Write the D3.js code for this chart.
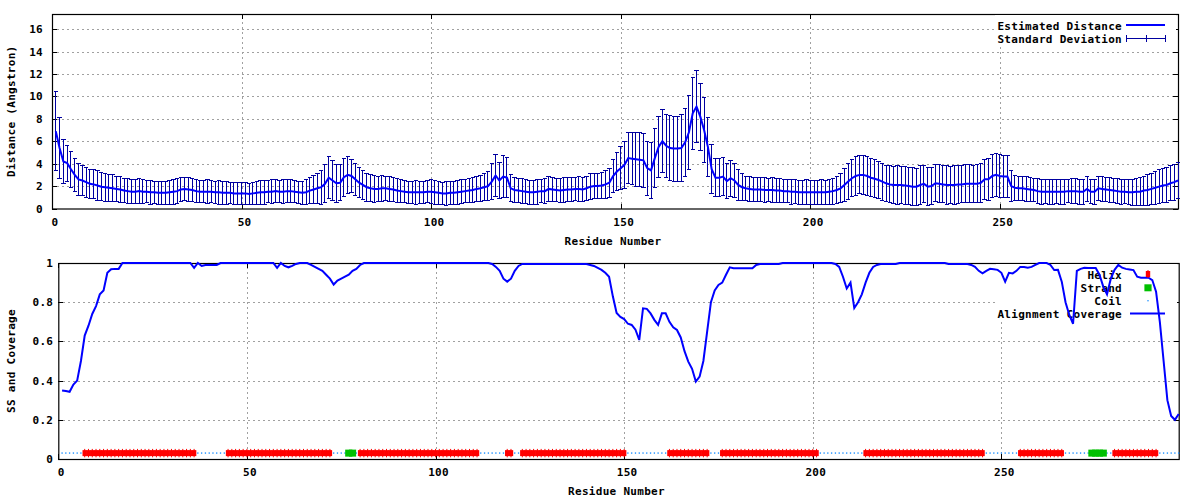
<!DOCTYPE html>
<html><head><meta charset="utf-8">
<script src="https://cdn.jsdelivr.net/npm/d3@7"></script>
<style>
html,body{margin:0;padding:0;background:#fff;}
svg text{font-family:"DejaVu Sans Mono",monospace;font-weight:bold;font-size:11px;letter-spacing:0.3px;fill:#000;}
</style></head><body>
<svg id="chart" width="1200" height="500"></svg>
<script>
// ---------- DATA ----------
const residues = d3.range(1, 298);
const meanDistance = [
6.9,5.4,4.2,4.05,3.5,3.0,2.6,2.5,2.35,2.2,
2.15,2.05,1.95,1.9,1.85,1.8,1.75,1.7,1.6,1.55,
1.5,1.5,1.55,1.5,1.5,1.45,1.45,1.4,1.4,1.4,
1.45,1.5,1.55,1.7,1.75,1.7,1.65,1.55,1.5,1.5,
1.5,1.5,1.45,1.45,1.4,1.4,1.4,1.35,1.35,1.35,
1.35,1.3,1.35,1.4,1.45,1.45,1.5,1.5,1.55,1.5,
1.5,1.55,1.55,1.5,1.45,1.4,1.45,1.6,1.7,1.8,
1.9,2.2,2.75,2.5,2.25,2.3,2.8,3.0,2.9,2.6,
2.3,2.1,1.9,1.8,1.75,1.75,1.8,1.8,1.75,1.7,
1.6,1.55,1.5,1.45,1.45,1.45,1.45,1.45,1.5,1.5,
1.45,1.4,1.35,1.35,1.4,1.4,1.45,1.5,1.55,1.6,
1.65,1.75,1.8,1.9,2.0,2.4,2.95,2.5,2.85,2.75,
1.8,1.65,1.6,1.55,1.5,1.45,1.45,1.5,1.55,1.55,
1.75,1.7,1.65,1.6,1.65,1.7,1.7,1.75,1.75,1.7,
1.8,1.95,2.0,2.0,2.05,2.15,2.3,2.9,3.3,3.6,
3.9,4.5,4.45,4.4,4.35,4.3,3.6,3.4,4.5,5.5,
6.0,5.6,5.4,5.35,5.35,5.4,5.9,6.8,8.5,9.1,
8.2,7.0,5.5,3.5,2.75,2.75,2.85,2.45,2.7,2.5,
2.1,1.9,1.8,1.75,1.7,1.7,1.7,1.65,1.65,1.65,
1.6,1.6,1.55,1.55,1.5,1.5,1.45,1.45,1.45,1.45,
1.45,1.45,1.45,1.45,1.5,1.55,1.65,1.8,2.1,2.4,
2.7,2.9,3.0,3.0,2.9,2.75,2.65,2.55,2.4,2.25,
2.15,2.1,2.1,2.1,2.05,2.0,1.95,1.95,2.1,2.2,
1.95,2.0,2.25,2.2,2.15,2.1,2.1,2.1,2.15,2.15,
2.2,2.2,2.2,2.2,2.3,2.6,2.6,2.9,3.0,2.9,
2.85,2.85,2.0,1.85,1.8,1.8,1.75,1.7,1.65,1.55,
1.5,1.5,1.5,1.5,1.5,1.5,1.5,1.55,1.55,1.55,
1.5,1.5,1.75,1.5,1.5,1.8,1.75,1.7,1.65,1.6,
1.55,1.5,1.5,1.45,1.45,1.5,1.5,1.6,1.65,1.75,
1.85,1.95,2.05,2.1,2.25,2.35,2.5
];
const stdDeviation = [
3.5,2.7,2.0,1.6,1.6,1.45,1.4,1.35,1.35,1.3,
1.3,1.3,1.25,1.25,1.2,1.2,1.15,1.15,1.1,1.1,
1.05,1.05,1.1,1.05,1.0,1.05,1.0,1.0,1.05,1.0,
1.05,1.1,1.1,1.05,1.05,1.1,1.05,1.05,1.0,1.0,
1.05,1.0,1.0,1.05,1.0,1.0,0.95,1.0,1.0,0.95,
1.0,0.95,1.0,1.0,1.05,1.05,1.0,1.05,1.05,1.0,
1.05,1.0,1.05,1.0,1.0,1.05,1.1,1.15,1.25,1.35,
1.5,1.7,1.9,1.8,1.7,1.6,1.7,1.65,1.5,1.4,
1.35,1.3,1.25,1.2,1.2,1.15,1.15,1.1,1.1,1.05,
1.05,1.05,1.0,1.0,1.0,1.05,1.0,1.0,1.0,1.05,
1.05,1.0,1.0,1.05,1.05,1.0,1.05,1.05,1.05,1.1,
1.1,1.15,1.15,1.2,1.3,1.6,1.9,1.6,1.9,1.8,
1.2,1.1,1.05,1.1,1.05,1.05,1.05,1.1,1.05,1.1,
1.1,1.1,1.05,1.1,1.1,1.1,1.1,1.05,1.1,1.1,
1.1,1.15,1.15,1.15,1.2,1.25,1.3,1.5,1.7,1.9,
2.1,2.3,2.3,2.4,2.4,2.4,2.4,2.5,2.6,2.7,
2.8,2.8,2.9,2.9,2.9,3.0,3.0,3.3,3.2,3.2,
3.0,2.9,2.6,2.2,1.7,1.7,1.7,1.6,1.6,1.5,
1.4,1.2,1.1,1.1,1.1,1.1,1.05,1.1,1.05,1.1,
1.05,1.1,1.05,1.05,1.1,1.05,1.05,1.05,1.1,1.05,
1.05,1.05,1.1,1.05,1.1,1.15,1.2,1.3,1.45,1.6,
1.65,1.7,1.7,1.75,1.75,1.7,1.7,1.65,1.65,1.6,
1.65,1.65,1.7,1.65,1.7,1.65,1.7,1.65,1.7,1.65,
1.7,1.65,1.65,1.7,1.65,1.7,1.65,1.7,1.7,1.65,
1.7,1.7,1.65,1.7,1.75,1.8,1.85,1.9,1.9,1.9,
1.85,1.85,1.4,1.1,1.1,1.05,1.1,1.05,1.05,1.1,
1.1,1.05,1.1,1.1,1.05,1.1,1.1,1.05,1.1,1.1,
1.1,1.1,1.1,1.05,1.1,1.1,1.1,1.05,1.1,1.05,
1.1,1.1,1.05,1.1,1.15,1.2,1.25,1.3,1.35,1.4,
1.45,1.5,1.5,1.55,1.55,1.6,1.6
];
const coverage = [
0.35,0.347,0.343,0.38,0.40,0.50,0.63,0.68,0.74,0.78,
0.84,0.86,0.95,0.968,0.97,0.97,1,1,1,1,
1,1,1,1,1,1,1,1,1,1,
1,1,1,1,1,0.975,1,0.985,0.99,0.99,
0.99,0.99,1,1,1,1,1,1,1,1,
1,1,1,1,1,1,1,0.975,1,0.985,
0.978,0.985,0.995,1,1,1,0.99,0.98,0.97,0.96,
0.94,0.92,0.89,0.91,0.92,0.93,0.94,0.96,0.97,0.99,
1,1,1,1,1,1,1,1,1,1,
1,1,1,1,1,1,1,1,1,1,
1,1,1,1,1,1,1,1,1,1,
1,1,1,1,0.995,0.98,0.96,0.92,0.905,0.92,
0.96,0.985,0.995,0.995,0.995,0.995,0.995,0.995,0.995,0.995,
0.995,0.995,0.995,0.995,0.995,0.995,0.995,0.995,0.995,0.995,
0.99,0.985,0.975,0.965,0.95,0.93,0.83,0.745,0.725,0.714,
0.69,0.684,0.66,0.607,0.769,0.766,0.743,0.71,0.684,0.743,
0.743,0.7,0.672,0.658,0.62,0.55,0.497,0.46,0.395,0.42,
0.5,0.65,0.8,0.86,0.888,0.9,0.94,0.978,0.973,0.973,
0.973,0.973,0.973,0.973,0.99,0.995,0.995,0.995,0.995,0.995,
0.995,1,1,1,1,1,1,1,1,1,
1,1,1,1,1,0.995,0.98,0.93,0.87,0.9,
0.77,0.8,0.84,0.9,0.95,0.98,0.99,0.995,0.995,0.995,
0.995,0.995,1,1,1,1,1,1,1,1,
1,1,1,1,1,0.995,0.995,0.995,0.995,0.995,
0.995,0.99,0.98,0.96,0.947,0.96,0.97,0.968,0.965,0.95,
0.905,0.95,0.947,0.96,0.98,0.98,0.976,0.98,0.99,1,
1,1,0.99,0.964,0.965,0.905,0.8,0.735,0.69,0.96,
0.97,0.976,0.975,0.975,0.975,0.94,0.88,0.84,0.92,0.965,
0.99,0.976,0.97,0.967,0.964,0.93,0.925,0.925,0.925,0.913,
0.854,0.7,0.5,0.3,0.22,0.2,0.23
];
const helixSegments = [[7,36],[45,72],[80,111],[119,120],[123,150],[162,172],[176,201],[214,245],[255,266],[280,291]];
const strandSegments = [[77,78],[274,277]];
const ssLevel = 0.03;
const xTicks = [0,50,100,150,200,250];
const distTicks = [0,2,4,6,8,10,12,14,16];
const covTicks = [0,0.2,0.4,0.6,0.8,1];
const topLegend = ["Estimated Distance","Standard Deviation"];
const botLegend = ["Helix","Strand","Coil","Alignment Coverage"];

// ---------- DERIVED ----------
const inSeg = (segs, r) => segs.some(([a,b]) => r >= a && r <= b);
const helixRes = residues.filter(r => inSeg(helixSegments, r));
const strandRes = residues.filter(r => inSeg(strandSegments, r));
const coilRes = residues.filter(r => !inSeg(helixSegments, r) && !inSeg(strandSegments, r));

const svg = d3.select("#chart");
const GRID = "#a0a0a0", BLUE = "#0000ff", NAVY = "#0000a0", RED = "#ff0000", GREEN = "#00c000", COIL = "#1e90ff";

function panel(x, y, yTicks, yFmt, yPad, xPad, xTitle, xTitleY, yTitle) {
  const g = svg.append("g");
  const [x0, x1] = x.range(), [y0, y1] = y.range();
  // grid
  g.append("g").attr("shape-rendering", "crispEdges").selectAll("line").data(xTicks.filter(t => t > 0)).join("line")
    .attr("x1", d => Math.round(x(d)) + 0.5).attr("x2", d => Math.round(x(d)) + 0.5)
    .attr("y1", y0).attr("y2", y1)
    .attr("stroke", GRID).attr("stroke-dasharray", "2,3");
  g.append("g").attr("shape-rendering", "crispEdges").selectAll("line").data(yTicks.filter(t => t > 0 && y(t) > y1 + 1)).join("line")
    .attr("y1", d => Math.round(y(d)) + 0.5).attr("y2", d => Math.round(y(d)) + 0.5)
    .attr("x1", x0).attr("x2", x1)
    .attr("stroke", GRID).attr("stroke-dasharray", "2,3");
  // axes
  const styl = s => { s.select(".domain").remove(); s.selectAll(".tick line").attr("stroke", "#000").attr("shape-rendering", "crispEdges"); };
  g.append("g").attr("transform", `translate(${x0},0)`)
    .call(d3.axisLeft(y).tickValues(yTicks).tickSize(-5).tickPadding(yPad).tickFormat(yFmt))
    .call(styl).call(s => s.selectAll("text").attr("font-family", null).attr("font-size", null));
  g.append("g").attr("transform", `translate(${x1},0)`)
    .call(d3.axisRight(y).tickValues(yTicks).tickSize(-5).tickFormat(""))
    .call(styl);
  g.append("g").attr("transform", `translate(0,${y0})`)
    .call(d3.axisBottom(x).tickValues(xTicks).tickSize(-5).tickPadding(xPad).tickFormat(d3.format("d")))
    .call(styl).call(s => s.selectAll("text").attr("font-family", null).attr("font-size", null).attr("dx", 2.5));
  g.append("g").attr("transform", `translate(0,${y1})`)
    .call(d3.axisTop(x).tickValues(xTicks).tickSize(-5).tickFormat(""))
    .call(styl);
  g.append("rect").attr("x", x0 + 0.5).attr("y", y1 + 0.5)
    .attr("width", x1 - x0).attr("height", y0 - y1)
    .attr("fill", "none").attr("stroke", "#000").attr("stroke-width", 1.2);
  g.append("text").attr("x", (x0 + x1) / 2 - 2).attr("y", xTitleY).attr("text-anchor", "middle").text(xTitle);
  g.append("text").attr("transform", `translate(15,${(y0 + y1) / 2}) rotate(-90)`).attr("text-anchor", "middle").text(yTitle);
  return g;
}

// ---------- TOP PANEL ----------
const xT = d3.scaleLinear().domain([0, 297]).range([52, 1178]);
const yT = d3.scaleLinear().domain([0, 17.36]).range([208.5, 14]);
const gT = panel(xT, yT, distTicks, d3.format("d"), 9, 10, "Residue Number", 245, "Distance (Angstron)");

// legend (opaque key box)
gT.append("rect").attr("x", 995).attr("y", 15).attr("width", 181).attr("height", 31).attr("fill", "#fff");
gT.append("g").selectAll("text").data(topLegend).join("text")
  .attr("x", 1122).attr("y", (d, i) => 29.5 + i * 13).attr("text-anchor", "end").text(d => d);

const td = residues.map((r, i) => ({ r, m: meanDistance[i], s: stdDeviation[i] }));
const eb = gT.append("g").attr("stroke", NAVY).attr("stroke-width", 1).attr("shape-rendering", "crispEdges");
eb.selectAll("line.v").data(td).join("line").attr("class", "v")
  .attr("x1", d => xT(d.r)).attr("x2", d => xT(d.r))
  .attr("y1", d => yT(Math.max(0, d.m - d.s))).attr("y2", d => yT(d.m + d.s));
eb.selectAll("line.t").data(td).join("line").attr("class", "t")
  .attr("x1", d => xT(d.r) - 2.2).attr("x2", d => xT(d.r) + 2.2)
  .attr("y1", d => yT(d.m + d.s)).attr("y2", d => yT(d.m + d.s));
eb.selectAll("line.b").data(td.filter(d => d.m - d.s > 0)).join("line").attr("class", "b")
  .attr("x1", d => xT(d.r) - 2.2).attr("x2", d => xT(d.r) + 2.2)
  .attr("y1", d => yT(d.m - d.s)).attr("y2", d => yT(d.m - d.s));
gT.append("path").datum(td)
  .attr("fill", "none").attr("stroke", BLUE).attr("stroke-width", 2)
  .attr("d", d3.line().x(d => xT(d.r)).y(d => yT(d.m)));

// legend samples
gT.append("line").attr("x1", 1126).attr("x2", 1165).attr("y1", 25).attr("y2", 25).attr("stroke", BLUE).attr("stroke-width", 2);
const ls = gT.append("g").attr("stroke", NAVY).attr("stroke-width", 1).attr("shape-rendering", "crispEdges");
ls.append("line").attr("x1", 1126).attr("x2", 1165).attr("y1", 38.5).attr("y2", 38.5);
[1126, 1146, 1165].forEach(xx => ls.append("line").attr("x1", xx + 0.5).attr("x2", xx + 0.5).attr("y1", 35).attr("y2", 42));

// ---------- BOTTOM PANEL ----------
const xB = d3.scaleLinear().domain([0, 297]).range([58.3, 1178.7]);
const yB = d3.scaleLinear().domain([0, 1]).range([459, 263]);
const gB = panel(xB, yB, covTicks, d => String(+d.toFixed(1)), 5, 9.2, "Residue Number", 495, "SS and Coverage");

gB.append("rect").attr("x", 996).attr("y", 264).attr("width", 181).attr("height", 56).attr("fill", "#fff");
gB.append("g").selectAll("text").data(botLegend).join("text")
  .attr("x", 1122).attr("y", (d, i) => 279 + i * 13).attr("text-anchor", "end").text(d => d);

const yS = yB(ssLevel);
gB.append("g").selectAll("circle").data(coilRes).join("circle")
  .attr("cx", d => xB(d)).attr("cy", yS).attr("r", 0.8).attr("fill", COIL);
const hx = gB.append("g");
hx.selectAll("rect").data(helixRes).join("rect")
  .attr("x", d => xB(d) - 2.2).attr("y", yS - 3).attr("width", 4.4).attr("height", 6).attr("fill", RED);
hx.selectAll("line").data(helixRes).join("line")
  .attr("x1", d => xB(d)).attr("x2", d => xB(d)).attr("y1", yS - 4.2).attr("y2", yS + 4.2)
  .attr("stroke", RED).attr("stroke-width", 1);
gB.append("g").selectAll("rect").data(strandRes).join("rect")
  .attr("x", d => xB(d) - 3.6).attr("y", yS - 3.5).attr("width", 7.2).attr("height", 7).attr("fill", GREEN);

const cd = residues.map((r, i) => ({ r, c: coverage[i] }));
gB.append("path").datum(cd)
  .attr("fill", "none").attr("stroke", BLUE).attr("stroke-width", 2)
  .attr("d", d3.line().x(d => xB(d.r)).y(d => yB(d.c)));

// legend samples
gB.append("rect").attr("x", 1145.8).attr("y", 271).attr("width", 4.4).attr("height", 6).attr("fill", RED);
gB.append("line").attr("x1", 1148).attr("x2", 1148).attr("y1", 270).attr("y2", 278).attr("stroke", RED);
gB.append("rect").attr("x", 1144.4).attr("y", 284.3).attr("width", 7.2).attr("height", 7).attr("fill", GREEN);
gB.append("circle").attr("cx", 1148).attr("cy", 300.8).attr("r", 0.8).attr("fill", COIL);
gB.append("line").attr("x1", 1130).attr("x2", 1165).attr("y1", 313.5).attr("y2", 313.5).attr("stroke", BLUE).attr("stroke-width", 2);
</script>
</body></html>
